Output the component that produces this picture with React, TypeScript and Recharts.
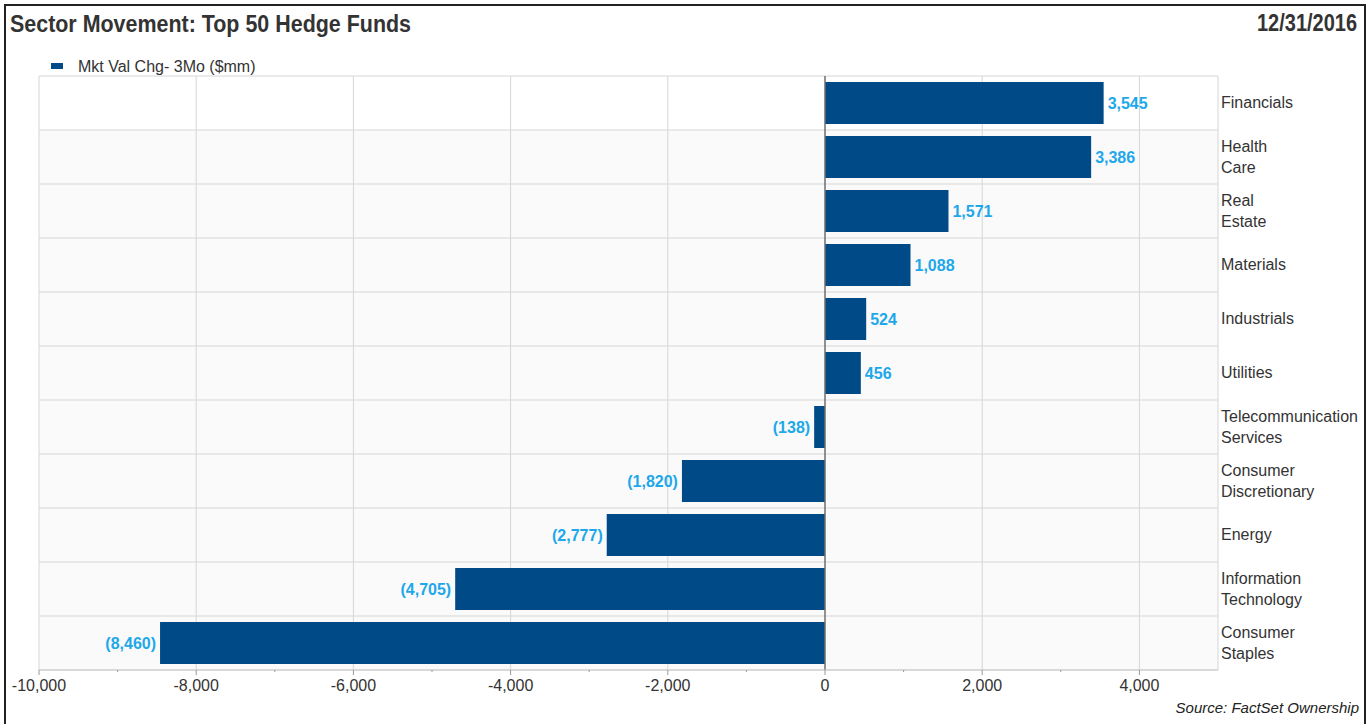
import React from 'react';
import {
  BarChart,
  Bar,
  XAxis,
  YAxis,
  CartesianGrid,
  ReferenceLine,
  LabelList,
} from 'recharts';

const categories = [
  'Financials',
  'Health Care',
  'Real Estate',
  'Materials',
  'Industrials',
  'Utilities',
  'Telecommunication Services',
  'Consumer Discretionary',
  'Energy',
  'Information Technology',
  'Consumer Staples',
];
const mktValChg = [3545, 3386, 1571, 1088, 524, 456, -138, -1820, -2777, -4705, -8460];

const xTicks = [
  -10000, -9000, -8000, -7000, -6000, -5000, -4000, -3000, -2000, -1000, 0, 1000, 2000, 3000, 4000,
];
// grid lines: every 2,000 plus the plot edges; the zero line is drawn separately
const gridValues = [-10000, -8000, -6000, -4000, -2000, 2000, 4000, 5000];

const seriesName = 'Mkt Val Chg- 3Mo ($mm)';
const FONT = '"Liberation Sans", Arial, sans-serif';
const BAR = '#004a87';
const LABEL = '#1ea8ea';

const data = categories.map((name, i) => ({ name, value: mktValChg[i] }));

const fmtLabel = (v: any) => {
  const n = Number(v);
  return n < 0 ? `(${Math.abs(n).toLocaleString('en-US')})` : n.toLocaleString('en-US');
};

// row separators sit on the category band edges
const rowLines = ({ offset }: any) =>
  categories.map((_, i) => offset.top + (i * offset.height) / categories.length).concat(offset.top + offset.height);

const XTick = ({ x, y, payload }: any) => {
  const major = payload.value % 2000 === 0;
  return (
    <g>
      <line x1={x} x2={x} y1={y} y2={y + (major ? 5 : 2)} stroke="#999" />
      {major && (
        <text x={x} y={y + 15} dy="0.355em" textAnchor="middle" fontSize={16} fill="#333" fontFamily={FONT}>
          {payload.value.toLocaleString('en-US')}
        </text>
      )}
    </g>
  );
};

const YTick = ({ x, y, payload }: any) => {
  const lines = String(payload.value).split(' ');
  const step = 21;
  const start = y - 0.5 - ((lines.length - 1) * step) / 2;
  return (
    <g>
      {lines.map((l, i) => (
        <text key={i} x={x} y={start + i * step} dy="0.355em" textAnchor="start" fontSize={16} fill="#333" fontFamily={FONT}>
          {l}
        </text>
      ))}
    </g>
  );
};

export default function App() {
  return (
    <div style={{ position: 'absolute', left: 0, top: 0, width: 1372, height: 724, background: '#fff', overflow: 'hidden' }}>
      <BarChart
        width={1372}
        height={724}
        data={data}
        layout="vertical"
        margin={{ top: 76, right: 4, bottom: 24, left: 39 }}
      >
        <CartesianGrid
          xAxisId="grid"
          stroke="#d6d6d6"
          horizontalCoordinatesGenerator={rowLines}
          horizontalFill={['#ffffff', '#fafafa', '#fafafa', '#fafafa', '#fafafa', '#fafafa', '#fafafa', '#fafafa', '#fafafa', '#fafafa', '#fafafa']}
        />
        <XAxis
          type="number"
          domain={[-10000, 5000]}
          ticks={xTicks}
          interval={0}
          allowDataOverflow
          height={30}
          tickSize={0}
          tickMargin={0}
          tickLine={false}
          axisLine={{ stroke: '#c8c8c8' }}
          tick={<XTick />}
        />
        <XAxis xAxisId="grid" type="number" domain={[-10000, 5000]} ticks={gridValues} interval={0} allowDataOverflow hide />
        <YAxis
          type="category"
          dataKey="name"
          orientation="right"
          width={150}
          interval={0}
          tickSize={0}
          tickMargin={3}
          tickLine={false}
          axisLine={false}
          tick={<YTick />}
        />
        <Bar dataKey="value" fill={BAR} barSize={42} isAnimationActive={false}>
          <LabelList
            dataKey="value"
            position="right"
            offset={4}
            formatter={fmtLabel}
            fill={LABEL}
            fontSize={16}
            fontWeight="bold"
            fontFamily={FONT}
          />
        </Bar>
        <ReferenceLine x={0} stroke="#6e6e6e" strokeWidth={1.5} />
      </BarChart>
      <svg
        width={1372}
        height={724}
        style={{ position: 'absolute', left: 0, top: 0, pointerEvents: 'none' }}
        fontFamily={FONT}
      >
        <rect x={5} y={5} width={1360} height={740} fill="none" stroke="#222" strokeWidth={2} />
        <text x={10} y={31.5} fontSize={23} fontWeight="bold" fill="#333" textLength={401} lengthAdjust="spacingAndGlyphs">
          Sector Movement: Top 50 Hedge Funds
        </text>
        <text x={1357} y={31} fontSize={23} fontWeight="bold" fill="#333" textAnchor="end" textLength={100} lengthAdjust="spacingAndGlyphs">
          12/31/2016
        </text>
        <rect x={51} y={63} width={12} height={6} fill={BAR} />
        <text x={78} y={72} fontSize={16} fill="#333">
          {seriesName}
        </text>
        <text x={1359} y={713} fontSize={15} fontStyle="italic" fill="#222" textAnchor="end">
          Source: FactSet Ownership
        </text>
      </svg>
    </div>
  );
}
